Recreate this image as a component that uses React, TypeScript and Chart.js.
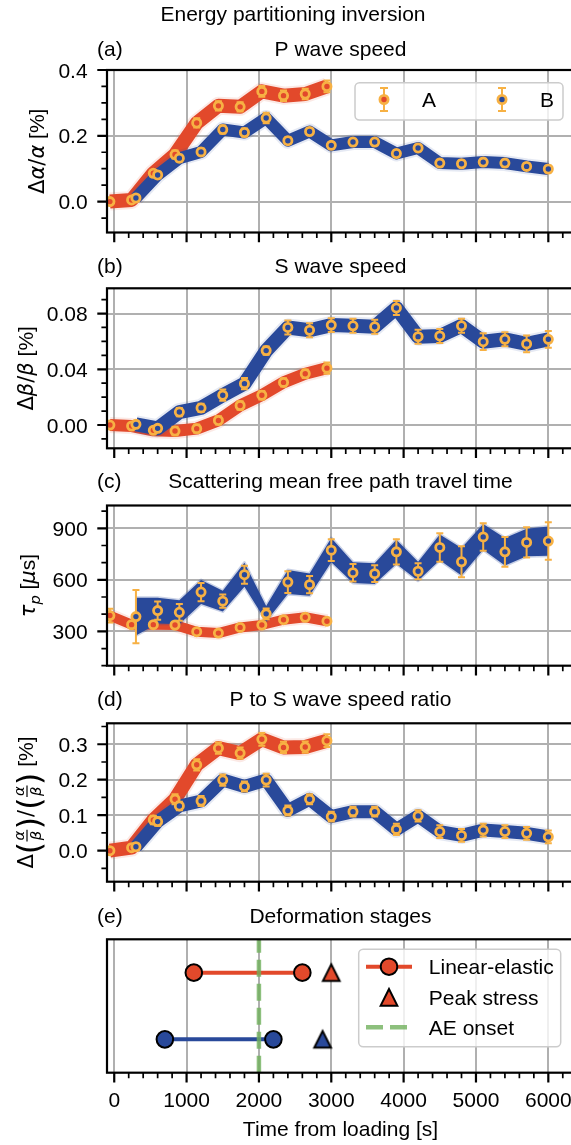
import React, { useEffect, useRef } from "react";
import { Chart, registerables } from "chart.js";

Chart.register(...registerables);

// ---------- look ----------
const SANS = '"Liberation Sans", Arial, Helvetica, sans-serif';
const MATH = '"DejaVu Sans", "Liberation Sans", sans-serif';
const FS = 21;

const RED = "#e2492b";
const BLUE = "#29499a";
const ORANGE = "#f7b144";
const GRID = "#b0b0b0";
const AE_GREEN = "rgba(112, 176, 92, 0.8)";

// ---------- data ----------
// Sampling times of the two runs [s]
const timesA = [-60, 240, 540, 840, 1140, 1440, 1740, 2040, 2340, 2640, 2940];
const timesB = [300, 600, 900, 1200, 1500, 1800, 2100, 2400, 2700, 3000, 3300, 3600, 3900, 4200, 4500, 4800, 5100, 5400, 5700, 6000];

// (a) relative P wave speed change [%]
const pSpeedA = [0.0, 0.005, 0.086, 0.143, 0.239, 0.291, 0.288, 0.335, 0.322, 0.327, 0.35];
const pSpeedErrA = [0.004, 0.006, 0.01, 0.012, 0.014, 0.014, 0.014, 0.016, 0.016, 0.016, 0.018];
const pSpeedB = [0.011, 0.081, 0.132, 0.151, 0.219, 0.21, 0.254, 0.185, 0.213, 0.171, 0.181, 0.181, 0.146, 0.163, 0.117, 0.115, 0.12, 0.117, 0.107, 0.099];
const pSpeedErrB = [0.006, 0.01, 0.01, 0.01, 0.012, 0.012, 0.016, 0.01, 0.01, 0.01, 0.01, 0.01, 0.01, 0.01, 0.01, 0.01, 0.01, 0.01, 0.01, 0.01];

// (b) relative S wave speed change [%]
const sSpeedA = [0.0, -0.0007, -0.0038, -0.0043, -0.0026, 0.0033, 0.014, 0.0214, 0.0306, 0.0368, 0.0408];
const sSpeedErrA = [0.001, 0.002, 0.002, 0.003, 0.003, 0.003, 0.003, 0.003, 0.003, 0.003, 0.004];
const sSpeedB = [0.0005, -0.0024, 0.0093, 0.0123, 0.0214, 0.0297, 0.0534, 0.07, 0.068, 0.0717, 0.0712, 0.0705, 0.084, 0.0634, 0.0639, 0.0712, 0.0598, 0.0615, 0.0582, 0.0615];
const sSpeedErrB = [0.002, 0.002, 0.003, 0.003, 0.004, 0.004, 0.003, 0.005, 0.005, 0.005, 0.005, 0.005, 0.005, 0.005, 0.005, 0.005, 0.006, 0.005, 0.006, 0.006];

// (c) scattering mean free path travel time [µs]
const tauA = [392, 339, 339, 337, 298, 290, 323, 337, 368, 382, 359];
const tauErrA = [40, 15, 10, 10, 10, 10, 10, 10, 10, 10, 10];
const tauB = [386, 421, 411, 529, 476, 630, 402, 587, 572, 773, 642, 636, 763, 650, 789, 705, 850, 763, 818, 826];
const tauErrB = [155, 53, 49, 53, 39, 52, 31, 63, 50, 63, 51, 49, 73, 46, 83, 90, 80, 86, 88, 109];
const tauSpreadB = [110, 75, 70, 70, 60, 70, 45, 70, 65, 70, 60, 60, 70, 55, 75, 80, 75, 80, 80, 85];

// (d) relative P to S wave speed ratio change [%]
const ratioA = [0.0, 0.0085, 0.0866, 0.145, 0.242, 0.289, 0.275, 0.314, 0.291, 0.292, 0.31];
const ratioErrA = [0.004, 0.008, 0.012, 0.014, 0.016, 0.016, 0.016, 0.018, 0.016, 0.016, 0.018];
const ratioB = [0.0113, 0.082, 0.126, 0.14, 0.199, 0.181, 0.199, 0.113, 0.145, 0.096, 0.11, 0.11, 0.06, 0.098, 0.054, 0.043, 0.058, 0.054, 0.049, 0.039];
const ratioErrB = [0.008, 0.012, 0.012, 0.014, 0.016, 0.014, 0.018, 0.014, 0.014, 0.014, 0.014, 0.014, 0.016, 0.016, 0.018, 0.018, 0.018, 0.018, 0.018, 0.018];

// (e) deformation stages per run (A on the upper row, B on the lower)
const stageRowY = [1, 0];
const stageColors = [RED, BLUE];
const linearElasticStart = [1100, 700];
const linearElasticEnd = [2600, 2200];
const peakStress = [3000, 2880];
const aeOnset = 2000;

// axis ticks
const timeTicks = [0, 1000, 2000, 3000, 4000, 5000, 6000];
const timeTickLabels = ["0", "1000", "2000", "3000", "4000", "5000", "6000"];
const pSpeedTicks = [0, 0.2, 0.4];
const pSpeedTickLabels = ["0.0", "0.2", "0.4"];
const sSpeedTicks = [0, 0.04, 0.08];
const sSpeedTickLabels = ["0.00", "0.04", "0.08"];
const tauTicks = [300, 600, 900];
const tauTickLabels = ["300", "600", "900"];
const ratioTicks = [0, 0.1, 0.2, 0.3];
const ratioTickLabels = ["0.0", "0.1", "0.2", "0.3"];

// ---------- layout ----------
const CANVAS_W = 590;
const PLOT_LEFT = 107;
const PLOT_RIGHT = 574;
const X_MIN = -100;
const X_MAX = 6355;
const X_MINOR = 200;
const MAJOR_LEN = 9.7;
const MINOR_LEN = 5.6;
const TICK_PAD = 9.7;

type Piece =
  | { text: string; font: string; dy?: number }
  | { frac: [string, string] }
  | { paren: string };

const UP = `${FS}px ${MATH}`;
const IT = `italic ${FS}px ${MATH}`;
const TXT = `${FS}px ${SANS}`;
const SMALL_IT = `italic ${FS * 0.7}px ${MATH}`;
const PAREN = `${FS * 1.5}px ${MATH}`;

const labelAlpha: Piece[] = [
  { text: "Δ", font: UP }, { text: "α", font: IT }, { text: "/", font: UP }, { text: "α", font: IT }, { text: " [%]", font: TXT },
];
const labelBeta: Piece[] = [
  { text: "Δ", font: UP }, { text: "β", font: IT }, { text: "/", font: UP }, { text: "β", font: IT }, { text: " [%]", font: TXT },
];
const labelTau: Piece[] = [
  { text: "τ", font: IT }, { text: "p", font: SMALL_IT, dy: FS * 0.22 }, { text: " [", font: TXT }, { text: "μ", font: IT }, { text: "s]", font: TXT },
];
const labelRatio: Piece[] = [
  { text: "Δ", font: UP }, { paren: "(" }, { frac: ["α", "β"] }, { paren: ")" }, { text: "/", font: UP },
  { paren: "(" }, { frac: ["α", "β"] }, { paren: ")" }, { text: " [%]", font: TXT },
];

type Series = { t: number[]; v: number[]; err: number[]; color: string; band: number; spread?: number[] };

type PanelDef = {
  key: string;
  letter: string;
  title: string;
  top: number;
  height: number;
  plotTop: number;
  plotBottom: number;
  titleBase: number;
  yMin: number;
  yMax: number;
  yTicks: number[];
  yTickLabels: string[];
  yMinor: number;
  yLabel: Piece[];
  yLabelBase: number;
  series: Series[];
  legend?: boolean;
  suptitle?: boolean;
};

const panels: PanelDef[] = [
  {
    key: "a", letter: "(a)", title: "P wave speed", top: 0, height: 250, plotTop: 70, plotBottom: 232.5, titleBase: 56,
    yMin: -0.094, yMax: 0.4, yTicks: pSpeedTicks, yTickLabels: pSpeedTickLabels, yMinor: 0.05, yLabel: labelAlpha, yLabelBase: 44,
    series: [
      { t: timesA, v: pSpeedA, err: pSpeedErrA, color: RED, band: 14 },
      { t: timesB, v: pSpeedB, err: pSpeedErrB, color: BLUE, band: 12 },
    ],
    legend: true, suptitle: true,
  },
  {
    key: "b", letter: "(b)", title: "S wave speed", top: 250, height: 216, plotTop: 288.3, plotBottom: 448.3, titleBase: 272.7,
    yMin: -0.0167, yMax: 0.0981, yTicks: sSpeedTicks, yTickLabels: sSpeedTickLabels, yMinor: 0.01, yLabel: labelBeta, yLabelBase: 33,
    series: [
      { t: timesA, v: sSpeedA, err: sSpeedErrA, color: RED, band: 12 },
      { t: timesB, v: sSpeedB, err: sSpeedErrB, color: BLUE, band: 14 },
    ],
  },
  {
    key: "c", letter: "(c)", title: "Scattering mean free path travel time", top: 466, height: 217, plotTop: 505.5, plotBottom: 665.7, titleBase: 488.3,
    yMin: 100, yMax: 1033, yTicks: tauTicks, yTickLabels: tauTickLabels, yMinor: 100, yLabel: labelTau, yLabelBase: 35,
    series: [
      { t: timesA, v: tauA, err: tauErrA, color: RED, band: 10 },
      { t: timesB, v: tauB, err: tauErrB, color: BLUE, band: 0, spread: tauSpreadB },
    ],
  },
  {
    key: "d", letter: "(d)", title: "P to S wave speed ratio", top: 683, height: 216, plotTop: 723.3, plotBottom: 881.7, titleBase: 706,
    yMin: -0.0874, yMax: 0.359, yTicks: ratioTicks, yTickLabels: ratioTickLabels, yMinor: 0.05, yLabel: labelRatio, yLabelBase: 33.3,
    series: [
      { t: timesA, v: ratioA, err: ratioErrA, color: RED, band: 14 },
      { t: timesB, v: ratioB, err: ratioErrB, color: BLUE, band: 13 },
    ],
  },
];

const stagePanel = { letter: "(e)", title: "Deformation stages", top: 899, height: 246, plotTop: 939.3, plotBottom: 1072.7, titleBase: 922.7 };

// ---------- helpers ----------
function rgba(hex: string, a: number) {
  const n = parseInt(hex.slice(1), 16);
  return `rgba(${(n >> 16) & 255}, ${(n >> 8) & 255}, ${n & 255}, ${a})`;
}

function stepValues(min: number, max: number, step: number) {
  const out: number[] = [];
  const k0 = Math.ceil(min / step - 1e-6);
  const k1 = Math.floor(max / step + 1e-6);
  for (let k = k0; k <= k1; k++) out.push(k * step);
  return out;
}

function isNear(v: number, list: number[], tol: number) {
  return list.some((m) => Math.abs(m - v) < tol);
}

function pieceWidth(ctx: CanvasRenderingContext2D, p: Piece) {
  if ("frac" in p) {
    ctx.font = SMALL_IT;
    return Math.max(ctx.measureText(p.frac[0]).width, ctx.measureText(p.frac[1]).width) + 3;
  }
  if ("paren" in p) {
    ctx.font = PAREN;
    return ctx.measureText(p.paren).width;
  }
  ctx.font = p.font;
  return ctx.measureText(p.text).width;
}

// rotated axis label, baseline at page x = bx, centred vertically on cy
function drawRotatedLabel(ctx: CanvasRenderingContext2D, pieces: Piece[], bx: number, cy: number) {
  ctx.save();
  ctx.translate(bx, cy);
  ctx.rotate(-Math.PI / 2);
  ctx.fillStyle = "#000";
  ctx.strokeStyle = "#000";
  ctx.textBaseline = "alphabetic";
  ctx.textAlign = "left";
  const widths = pieces.map((p) => pieceWidth(ctx, p));
  let x = -widths.reduce((a, b) => a + b, 0) / 2;
  pieces.forEach((p, i) => {
    const w = widths[i];
    if ("frac" in p) {
      const barY = -0.3 * FS;
      ctx.font = SMALL_IT;
      ctx.textAlign = "center";
      ctx.fillText(p.frac[0], x + w / 2, barY - 3);
      ctx.fillText(p.frac[1], x + w / 2, barY + 13.8);
      ctx.textAlign = "left";
      ctx.lineWidth = 1.2;
      ctx.beginPath();
      ctx.moveTo(x + 0.5, barY);
      ctx.lineTo(x + w - 0.5, barY);
      ctx.stroke();
    } else if ("paren" in p) {
      ctx.font = PAREN;
      ctx.fillText(p.paren, x, 6.5);
    } else {
      ctx.font = p.font;
      ctx.fillText(p.text, x, p.dy || 0);
    }
    x += w;
  });
  ctx.restore();
}

function roundRect(ctx: CanvasRenderingContext2D, x: number, y: number, w: number, h: number, r: number) {
  ctx.beginPath();
  ctx.moveTo(x + r, y);
  ctx.lineTo(x + w - r, y);
  ctx.arcTo(x + w, y, x + w, y + r, r);
  ctx.lineTo(x + w, y + h - r);
  ctx.arcTo(x + w, y + h, x + w - r, y + h, r);
  ctx.lineTo(x + r, y + h);
  ctx.arcTo(x, y + h, x, y + h - r, r);
  ctx.lineTo(x, y + r);
  ctx.arcTo(x, y, x + r, y, r);
  ctx.closePath();
}

function legendFrame(ctx: CanvasRenderingContext2D, x: number, y: number, w: number, h: number) {
  roundRect(ctx, x, y, w, h, 4.5);
  ctx.fillStyle = "rgba(255,255,255,0.8)";
  ctx.fill();
  ctx.strokeStyle = "#cccccc";
  ctx.lineWidth = 1.5;
  ctx.stroke();
}

function trianglePath(ctx: CanvasRenderingContext2D, cx: number, cy: number, h: number) {
  ctx.beginPath();
  ctx.moveTo(cx, cy - h);
  ctx.lineTo(cx - h, cy + h);
  ctx.lineTo(cx + h, cy + h);
  ctx.closePath();
}

function triangleMarker(color: string) {
  const dim = 26;
  const c = document.createElement("canvas");
  c.width = dim;
  c.height = dim;
  const g = c.getContext("2d")!;
  trianglePath(g, dim / 2, dim / 2, 8.35);
  g.fillStyle = color;
  g.fill();
  g.lineWidth = 2;
  g.strokeStyle = "#000";
  g.stroke();
  return c;
}

const MARK_R = 4.1;
const MARK_EDGE = 2.8;

function drawErrorMarker(ctx: CanvasRenderingContext2D, cx: number, cy: number, color: string) {
  ctx.strokeStyle = ORANGE;
  ctx.lineWidth = 2;
  ctx.beginPath();
  ctx.moveTo(cx, cy - 11.5);
  ctx.lineTo(cx, cy + 11.5);
  ctx.moveTo(cx - 4, cy - 11.5);
  ctx.lineTo(cx + 4, cy - 11.5);
  ctx.moveTo(cx - 4, cy + 11.5);
  ctx.lineTo(cx + 4, cy + 11.5);
  ctx.stroke();
  ctx.beginPath();
  ctx.arc(cx, cy, MARK_R, 0, Math.PI * 2);
  ctx.fillStyle = color;
  ctx.fill();
  ctx.lineWidth = MARK_EDGE;
  ctx.strokeStyle = ORANGE;
  ctx.stroke();
}

// frame, ticks, tick labels and titles shared by all panels
function drawFrame(
  chart: any,
  opts: { top: number; letter: string; title: string; titleBase: number; yTicks?: number[]; yTickLabels?: string[]; yMinor?: number; xLabels?: boolean }
) {
  const ctx: CanvasRenderingContext2D = chart.ctx;
  const ca = chart.chartArea;
  const xs = chart.scales.x;
  const ys = chart.scales.y;
  ctx.save();
  ctx.strokeStyle = "#000";
  ctx.fillStyle = "#000";

  // x ticks
  const xMinors = stepValues(X_MIN, X_MAX, X_MINOR).filter((v) => !isNear(v, timeTicks, 1));
  ctx.lineWidth = 2.2;
  ctx.beginPath();
  timeTicks.forEach((v) => {
    const px = xs.getPixelForValue(v);
    ctx.moveTo(px, ca.bottom);
    ctx.lineTo(px, ca.bottom + MAJOR_LEN);
  });
  ctx.stroke();
  ctx.lineWidth = 1.7;
  ctx.beginPath();
  xMinors.forEach((v) => {
    const px = xs.getPixelForValue(v);
    ctx.moveTo(px, ca.bottom);
    ctx.lineTo(px, ca.bottom + MINOR_LEN);
  });
  ctx.stroke();

  // y ticks
  if (opts.yTicks && opts.yTickLabels && opts.yMinor) {
    const tol = opts.yMinor * 0.01;
    const yMinors = stepValues(ys.min, ys.max, opts.yMinor).filter((v) => !isNear(v, opts.yTicks!, tol));
    ctx.lineWidth = 2.2;
    ctx.beginPath();
    opts.yTicks.forEach((v) => {
      const py = ys.getPixelForValue(v);
      ctx.moveTo(ca.left - MAJOR_LEN, py);
      ctx.lineTo(ca.left, py);
    });
    ctx.stroke();
    ctx.lineWidth = 1.7;
    ctx.beginPath();
    yMinors.forEach((v) => {
      const py = ys.getPixelForValue(v);
      ctx.moveTo(ca.left - MINOR_LEN, py);
      ctx.lineTo(ca.left, py);
    });
    ctx.stroke();
    ctx.font = `${FS}px ${SANS}`;
    ctx.textAlign = "right";
    ctx.textBaseline = "alphabetic";
    opts.yTicks.forEach((v, i) => {
      const py = ys.getPixelForValue(v);
      ctx.fillText(opts.yTickLabels![i], ca.left - MAJOR_LEN - TICK_PAD, py + FS * 0.358);
    });
  }

  if (opts.xLabels) {
    ctx.font = `${FS}px ${SANS}`;
    ctx.textAlign = "center";
    ctx.textBaseline = "alphabetic";
    timeTicks.forEach((v, i) => {
      ctx.fillText(timeTickLabels[i], xs.getPixelForValue(v), ca.bottom + 34);
    });
    ctx.fillText("Time from loading [s]", (ca.left + ca.right) / 2, ca.bottom + 62.8);
  }

  // frame
  ctx.lineWidth = 2.2;
  ctx.strokeRect(ca.left, ca.top, ca.right - ca.left, ca.bottom - ca.top);

  // panel letter and title
  ctx.font = `${FS}px ${SANS}`;
  ctx.textBaseline = "alphabetic";
  ctx.textAlign = "left";
  const tb = opts.titleBase - opts.top;
  ctx.fillText(opts.letter, 97, tb);
  ctx.textAlign = "center";
  ctx.fillText(opts.title, (ca.left + ca.right) / 2, tb);
  ctx.restore();
}

const errorBarPlugin = {
  id: "errorBars",
  beforeDatasetDraw(chart: any, args: any) {
    const ds = chart.data.datasets[args.index];
    if (!ds.errorBars) return;
    const ctx: CanvasRenderingContext2D = chart.ctx;
    const ca = chart.chartArea;
    const ys = chart.scales.y;
    ctx.save();
    ctx.beginPath();
    ctx.rect(ca.left, ca.top, ca.right - ca.left, ca.bottom - ca.top);
    ctx.clip();
    ctx.strokeStyle = ORANGE;
    ctx.lineWidth = 2;
    ctx.beginPath();
    args.meta.data.forEach((el: any, i: number) => {
      const v = ds.data[i].y;
      const e = ds.errorBars[i];
      const y1 = ys.getPixelForValue(v + e);
      const y2 = ys.getPixelForValue(v - e);
      ctx.moveTo(el.x, y1);
      ctx.lineTo(el.x, y2);
      ctx.moveTo(el.x - 3.5, y1);
      ctx.lineTo(el.x + 3.5, y1);
      ctx.moveTo(el.x - 3.5, y2);
      ctx.lineTo(el.x + 3.5, y2);
    });
    ctx.stroke();
    ctx.restore();
  },
};

function seriesDatasets(def: PanelDef) {
  const list: any[] = [];
  def.series.forEach((s) => {
    const pts = s.t.map((t, i) => ({ x: t, y: s.v[i] }));
    if (s.spread) {
      const sp = s.spread;
      list.push({ data: s.t.map((t, i) => ({ x: t, y: s.v[i] - sp[i] })), borderColor: rgba(s.color, 0.25), borderWidth: 3, pointRadius: 0, fill: false });
      list.push({ data: s.t.map((t, i) => ({ x: t, y: s.v[i] + sp[i] })), borderColor: rgba(s.color, 0.25), borderWidth: 3, pointRadius: 0, fill: "-1", backgroundColor: s.color });
    } else {
      list.push({ data: pts, borderColor: rgba(s.color, 0.12), borderWidth: s.band + 4, pointRadius: 0, fill: false });
      list.push({ data: pts, borderColor: s.color, borderWidth: s.band, pointRadius: 0, fill: false });
    }
  });
  def.series.forEach((s) => {
    list.push({
      data: s.t.map((t, i) => ({ x: t, y: s.v[i] })),
      showLine: false,
      pointRadius: MARK_R,
      pointBorderWidth: MARK_EDGE,
      pointBackgroundColor: s.color,
      pointBorderColor: ORANGE,
      errorBars: s.err,
      fill: false,
    });
  });
  // first listed is drawn lowest
  return list.map((d, i, arr) => ({
    tension: 0,
    clip: 0,
    borderJoinStyle: "round",
    borderCapStyle: "butt",
    order: arr.length - i,
    ...d,
  }));
}

function baseOptions(top: number, height: number, plotTop: number, plotBottom: number, yMin: number, yMax: number, yTicks: number[], yGrid: boolean) {
  return {
    animation: false,
    responsive: false,
    devicePixelRatio: 1,
    events: [],
    layout: { padding: { left: 0, right: CANVAS_W - PLOT_RIGHT, top: plotTop - top, bottom: 0 } },
    plugins: { legend: { display: false }, tooltip: { enabled: false }, title: { display: false } },
    scales: {
      x: {
        type: "linear",
        position: "bottom",
        min: X_MIN,
        max: X_MAX,
        afterBuildTicks: (s: any) => {
          s.ticks = timeTicks.map((v) => ({ value: v }));
        },
        afterFit: (s: any) => {
          s.height = height - (plotBottom - top);
        },
        ticks: { display: false },
        border: { display: false },
        grid: { color: GRID, lineWidth: 2, drawTicks: false },
      },
      y: {
        type: "linear",
        position: "left",
        min: yMin,
        max: yMax,
        afterBuildTicks: (s: any) => {
          s.ticks = yTicks.map((v) => ({ value: v }));
        },
        afterFit: (s: any) => {
          s.width = PLOT_LEFT;
        },
        ticks: { display: false },
        border: { display: false },
        grid: { display: yGrid, color: GRID, lineWidth: 2, drawTicks: false },
      },
    },
  };
}

function SeriesPanel({ def }: { def: PanelDef }) {
  const ref = useRef<HTMLCanvasElement>(null);
  useEffect(() => {
    const decor = {
      id: "decor",
      afterDraw(chart: any) {
        const ctx: CanvasRenderingContext2D = chart.ctx;
        const ca = chart.chartArea;
        drawFrame(chart, {
          top: def.top, letter: def.letter, title: def.title, titleBase: def.titleBase,
          yTicks: def.yTicks, yTickLabels: def.yTickLabels, yMinor: def.yMinor,
        });
        drawRotatedLabel(ctx, def.yLabel, def.yLabelBase, (ca.top + ca.bottom) / 2);
        if (def.suptitle) {
          ctx.save();
          ctx.font = `${FS}px ${SANS}`;
          ctx.fillStyle = "#000";
          ctx.textAlign = "center";
          ctx.textBaseline = "alphabetic";
          ctx.fillText("Energy partitioning inversion", 293, 20.7 - def.top);
          ctx.restore();
        }
        if (def.legend) {
          ctx.save();
          const y0 = 82.7 - def.top;
          legendFrame(ctx, 355, y0, 208, 37.3);
          const cy = 99.5 - def.top;
          const entries = [
            { cx: 384, color: RED, label: "A", tx: 422 },
            { cx: 502, color: BLUE, label: "B", tx: 540 },
          ];
          entries.forEach((e) => {
            drawErrorMarker(ctx, e.cx, cy, e.color);
            ctx.font = `${FS}px ${SANS}`;
            ctx.fillStyle = "#000";
            ctx.textAlign = "left";
            ctx.textBaseline = "alphabetic";
            ctx.fillText(e.label, e.tx, cy + FS * 0.358);
          });
          ctx.restore();
        }
      },
    };
    const chart = new Chart(ref.current!, {
      type: "line",
      data: { datasets: seriesDatasets(def) },
      options: baseOptions(def.top, def.height, def.plotTop, def.plotBottom, def.yMin, def.yMax, def.yTicks, true) as any,
      plugins: [errorBarPlugin, decor],
    } as any);
    return () => chart.destroy();
  }, [def]);
  return (
    <canvas
      ref={ref}
      width={CANVAS_W}
      height={def.height}
      style={{ position: "absolute", left: 0, top: def.top, width: CANVAS_W, height: def.height, display: "block" }}
    />
  );
}

function StagePanel() {
  const ref = useRef<HTMLCanvasElement>(null);
  const p = stagePanel;
  useEffect(() => {
    const datasets: any[] = [];
    stageRowY.forEach((row, i) => {
      datasets.push({
        data: [
          { x: linearElasticStart[i], y: row },
          { x: linearElasticEnd[i], y: row },
        ],
        borderColor: stageColors[i],
        borderWidth: 4,
        pointRadius: 8.3,
        pointBorderWidth: 2,
        pointBackgroundColor: stageColors[i],
        pointBorderColor: "#000",
      });
    });
    datasets.push({
      data: [
        { x: aeOnset, y: -0.5 },
        { x: aeOnset, y: 1.5 },
      ],
      borderColor: AE_GREEN,
      borderWidth: 4.5,
      borderDash: [17, 7],
      pointRadius: 0,
    });
    stageRowY.forEach((row, i) => {
      datasets.push({
        data: [{ x: peakStress[i], y: row }],
        showLine: false,
        pointStyle: triangleMarker(stageColors[i]),
        pointRadius: 9,
      });
    });
    const ds = datasets.map((d, i, arr) => ({ tension: 0, clip: 0, fill: false, order: arr.length - i, ...d }));

    const decor = {
      id: "decor",
      afterDraw(chart: any) {
        const ctx: CanvasRenderingContext2D = chart.ctx;
        drawFrame(chart, { top: p.top, letter: p.letter, title: p.title, titleBase: p.titleBase, xLabels: true });
        ctx.save();
        legendFrame(ctx, 358.7, 949.3 - p.top, 202, 97.4);
        const rows = [966.7, 997.3, 1027.3].map((y) => y - p.top);
        const hx = 389;
        // linear-elastic handle
        ctx.strokeStyle = RED;
        ctx.lineWidth = 4;
        ctx.beginPath();
        ctx.moveTo(366, rows[0]);
        ctx.lineTo(412, rows[0]);
        ctx.stroke();
        ctx.beginPath();
        ctx.arc(hx, rows[0], 8.3, 0, Math.PI * 2);
        ctx.fillStyle = RED;
        ctx.fill();
        ctx.lineWidth = 2;
        ctx.strokeStyle = "#000";
        ctx.stroke();
        // peak stress handle
        trianglePath(ctx, hx, rows[1], 8.35);
        ctx.fillStyle = RED;
        ctx.fill();
        ctx.stroke();
        // AE onset handle
        ctx.strokeStyle = AE_GREEN;
        ctx.lineWidth = 4.5;
        ctx.setLineDash([17, 7]);
        ctx.beginPath();
        ctx.moveTo(366, rows[2]);
        ctx.lineTo(412, rows[2]);
        ctx.stroke();
        ctx.setLineDash([]);
        ctx.font = `${FS}px ${SANS}`;
        ctx.fillStyle = "#000";
        ctx.textAlign = "left";
        ctx.textBaseline = "alphabetic";
        ["Linear-elastic", "Peak stress", "AE onset"].forEach((t, i) => {
          ctx.fillText(t, 428.8, rows[i] + FS * 0.358);
        });
        ctx.restore();
      },
    };
    const chart = new Chart(ref.current!, {
      type: "line",
      data: { datasets: ds },
      options: baseOptions(p.top, p.height, p.plotTop, p.plotBottom, -0.5, 1.5, [], false) as any,
      plugins: [decor],
    } as any);
    return () => chart.destroy();
  }, []);
  return (
    <canvas
      ref={ref}
      width={CANVAS_W}
      height={p.height}
      style={{ position: "absolute", left: 0, top: p.top, width: CANVAS_W, height: p.height, display: "block" }}
    />
  );
}

export default function App() {
  return (
    <div style={{ position: "absolute", left: 0, top: 0, width: 571, height: 1145, overflow: "hidden", background: "#fff" }}>
      {panels.map((d) => (
        <SeriesPanel key={d.key} def={d} />
      ))}
      <StagePanel />
    </div>
  );
}
